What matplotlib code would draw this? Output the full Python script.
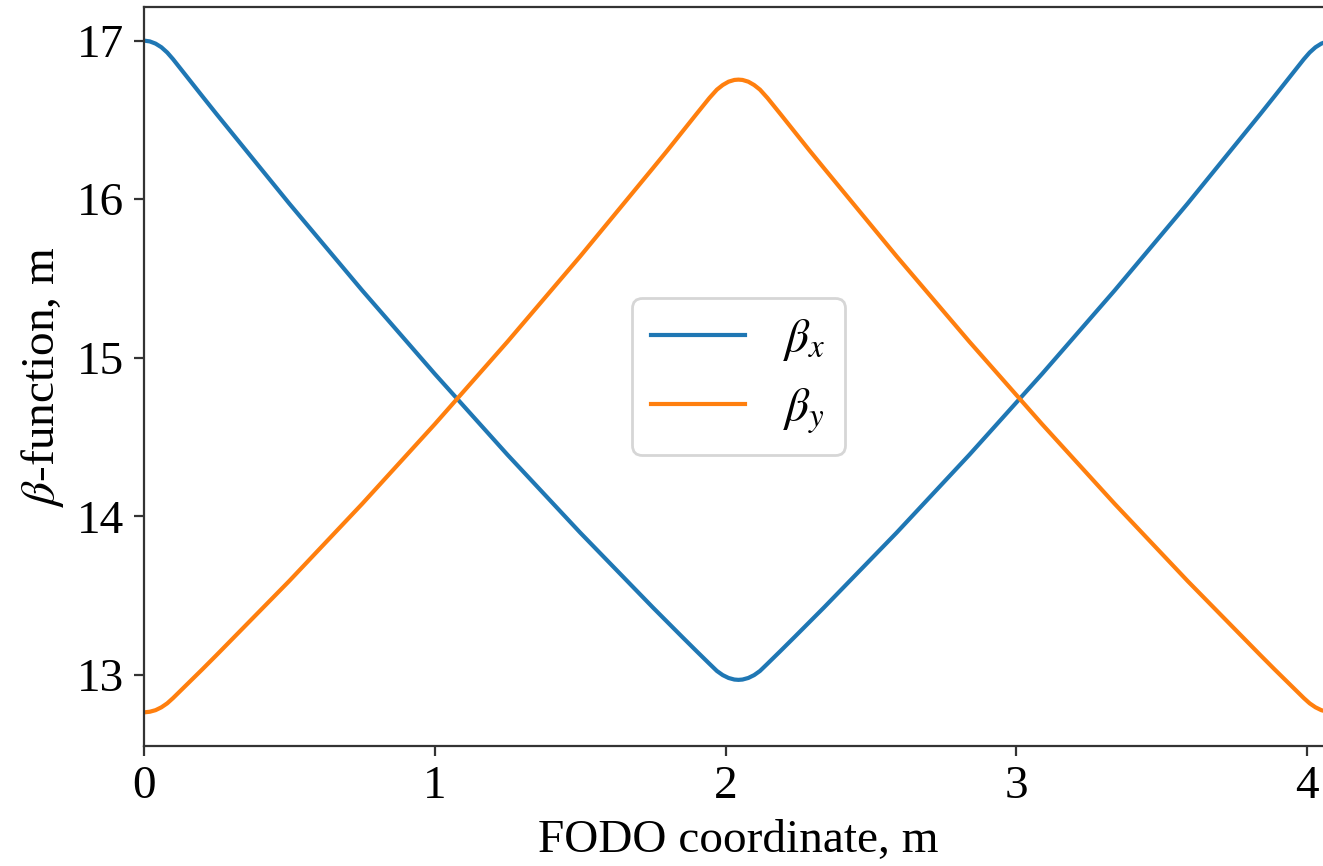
import matplotlib
matplotlib.use('Agg')
import matplotlib.pyplot as plt

# beta functions along the FODO cell
s = [0.00, 0.02, 0.04, 0.06, 0.08, 0.10, 0.15, 0.20, 0.25, 0.50, 0.75, 1.00, 1.25,
     1.50, 1.75, 1.80, 1.85, 1.90, 1.944, 1.97, 1.99, 2.01, 2.03, 2.044,
     2.058, 2.078, 2.098, 2.118, 2.144, 2.188, 2.238, 2.288, 2.338, 2.588, 2.838,
     3.088, 3.338, 3.588, 3.838, 3.888, 3.938, 3.988, 4.008, 4.028, 4.048, 4.068, 4.088]

beta_x = [17.000, 16.995, 16.981, 16.958, 16.925, 16.883, 16.767, 16.651, 16.536,
          15.972, 15.426, 14.899, 14.389, 13.898, 13.426, 13.334, 13.242, 13.151,
          13.072, 13.026, 13.000, 12.982, 12.972, 12.970,
          12.972, 12.982, 13.000, 13.026, 13.072, 13.151, 13.242, 13.334, 13.426,
          13.898, 14.389, 14.899, 15.426, 15.972, 16.536, 16.651, 16.767, 16.883,
          16.925, 16.958, 16.981, 16.995, 17.000]

beta_y = [12.765, 12.769, 12.779, 12.797, 12.822, 12.855, 12.945, 13.035, 13.127,
          13.594, 14.079, 14.582, 15.102, 15.640, 16.196, 16.308, 16.423, 16.538,
          16.638, 16.691, 16.720, 16.741, 16.752, 16.754,
          16.752, 16.741, 16.720, 16.691, 16.638, 16.538, 16.423, 16.308, 16.196,
          15.640, 15.102, 14.582, 14.079, 13.594, 13.127, 13.035, 12.945, 12.855,
          12.822, 12.797, 12.779, 12.769, 12.765]

plt.rcParams['font.family'] = ['Liberation Serif', 'DejaVu Serif']
plt.rcParams['mathtext.fontset'] = 'stix'
plt.rcParams['font.size'] = 17

fig = plt.figure(figsize=(6.615, 4.33), dpi=200)
# axes run a bit past the right edge, like the cropped original
ax = fig.add_axes([0.1088, 0.1386, 0.8987, 0.8533])

ax.plot(s, beta_x, label=r'$\beta_x$')
ax.plot(s, beta_y, label=r'$\beta_y$')

ax.set_xlim(0, 4.088)
ax.set_xticks([0, 1, 2, 3, 4])
ax.set_yticks([13, 14, 15, 16, 17])
ax.set_xlabel('FODO coordinate, m')
ax.set_ylabel(r'$\beta$-function, m')
for sp in ax.spines.values():
    sp.set_color('#333333')
ax.tick_params(color='#333333')
ax.legend(loc='center')

fig.savefig('out.png', dpi=200)
